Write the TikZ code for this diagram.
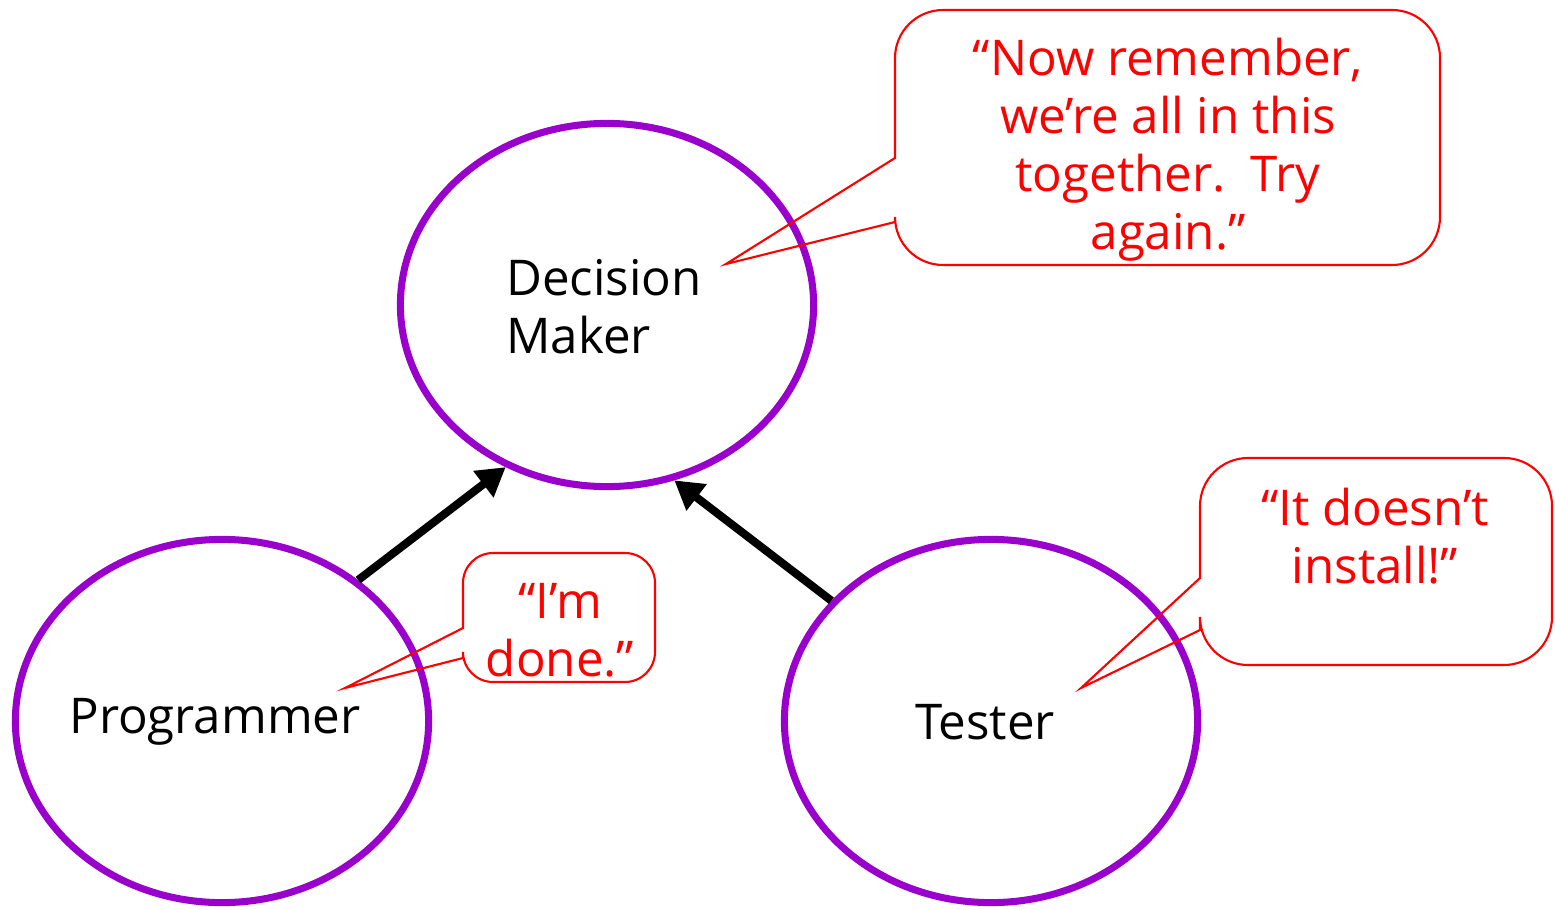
\documentclass[tikz,border=0pt]{standalone}
\usepackage{fontspec}
\setmainfont{Open Sans}
\usetikzlibrary{shapes.geometric, arrows.meta}
\definecolor{rolepurple}{RGB}{153,0,204}

\begin{document}
\begin{tikzpicture}[x=0.01cm, y=-0.01cm,
  role/.style={ellipse, draw=rolepurple, line width=2pt, minimum width=4.13cm, minimum height=3.63cm},
  rolename/.style={font=\fontsize{14}{16.5}\selectfont},
  push/.style={line width=2.3pt, -{Triangle[length=8pt, width=9pt]}},
  balloon/.style={draw=red, line width=0.6pt},
  says/.style={text=red, align=center, font=\fontsize{14}{16.5}\selectfont}]
\useasboundingbox (0,0) rectangle (1555,909);
% Draw roles
\node[role] (dm) at (607,305) {};
\node[role] (prog) at (222,721) {};
\node[role] (test) at (991,721) {};
\node[rolename, anchor=west, align=left] (dmtxt) at (494,307) {Decision\\Maker};
\node[rolename] (progtxt) at (215,722) {Programmer};
\node[rolename] (testtxt) at (985,722) {Tester};
% Draw arrows to decision maker
\draw[push] (prog.46.5) -- (dm.238);
\draw[push] (test.143.5) -- (dm.291.7);
% Speech balloon of decision maker
\draw[balloon] (895,158) -- (726,264) -- (895,222) [rounded corners=0.48cm] -- (895,265) -- (1440,265) -- (1440,10) -- (895,10) [sharp corners] -- cycle;
\node[says] (dmsays) at (1168,150) {``Now remember,\\we're all in this\\together.\ \ Try\\again.''};
% Speech balloon of programmer
\draw[balloon] (463,628) -- (345,688) -- (463,658) [rounded corners=0.3cm] -- (463,682) -- (655,682) -- (655,553) -- (463,553) [sharp corners] -- cycle;
\node[says] (progsays) at (560,630) {``I'm\\done.''};
% Speech balloon of tester
\draw[balloon] (1200,578) -- (1081,688) -- (1200,630) [rounded corners=0.48cm] -- (1200,665) -- (1552,665) -- (1552,458) -- (1200,458) [sharp corners] -- cycle;
\node[says] (testsays) at (1375,536) {``It doesn't\\install!''};
\end{tikzpicture}
\end{document}
